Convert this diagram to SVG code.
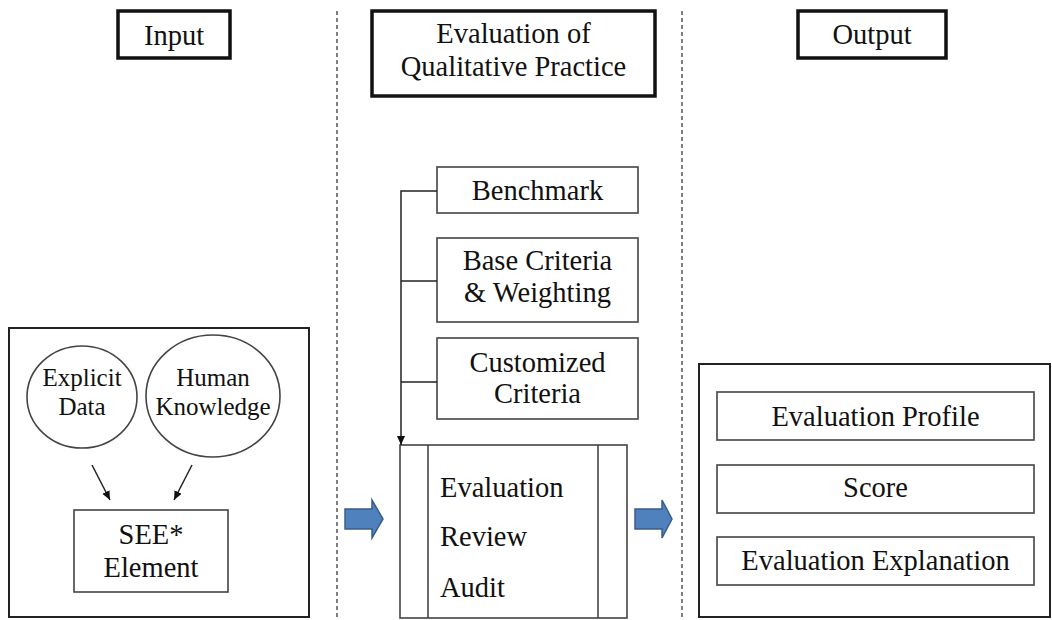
<svg xmlns="http://www.w3.org/2000/svg" width="1052" height="620" viewBox="0 0 1052 620">
  <defs>
    <marker id="tip" markerWidth="10" markerHeight="10" refX="9" refY="5" orient="auto" markerUnits="userSpaceOnUse">
      <path d="M0,1 L9,5 L0,9 Z" fill="#111"/>
    </marker>
    <style>
      text { font-family: "Liberation Serif", "Times New Roman", serif; font-size: 28.5px; fill: #111; }
      .mid { text-anchor: middle; }
      .small { font-size: 25px; }
      .head { fill: #fff; stroke: #111; stroke-width: 3.5; }
      .frame { fill: #fff; stroke: #222; stroke-width: 2; }
      .box { fill: #fff; stroke: #444; stroke-width: 1.6; }
      .divider { stroke: #555; stroke-width: 1.5; stroke-dasharray: 4 3; fill: none; }
      .link { stroke: #222; stroke-width: 1.5; fill: none; }
      .block { fill: #4F81BD; stroke: #385D8A; stroke-width: 1.5; }
    </style>
  </defs>
  <rect width="1052" height="620" fill="#fff"/>

  <!-- column dividers -->
  <g id="dividers">
    <line class="divider" x1="337" y1="11" x2="337" y2="620"/>
    <line class="divider" x1="682" y1="11" x2="682" y2="620"/>
  </g>

  <!-- column headers -->
  <g id="header-input">
    <rect class="head" x="118" y="11" width="112" height="47"/>
    <text class="mid" x="174" y="45">Input</text>
  </g>
  <g id="header-evaluation">
    <rect class="head" x="372" y="11" width="283" height="85"/>
    <text class="mid" x="513.5" y="43">Evaluation of</text>
    <text class="mid" x="513.5" y="76">Qualitative Practice</text>
  </g>
  <g id="header-output">
    <rect class="head" x="798" y="11" width="148" height="47"/>
    <text class="mid" x="872" y="44">Output</text>
  </g>

  <!-- input panel -->
  <g id="input-panel">
    <rect class="frame" x="9" y="328" width="300" height="289"/>
  </g>
  <g id="explicit-data">
    <ellipse class="box" cx="82" cy="397" rx="55" ry="51"/>
    <text class="mid small" x="82" y="386">Explicit</text>
    <text class="mid small" x="82" y="415">Data</text>
  </g>
  <g id="human-knowledge">
    <ellipse class="box" cx="213" cy="396" rx="67" ry="61"/>
    <text class="mid small" x="213" y="386">Human</text>
    <text class="mid small" x="213" y="415">Knowledge</text>
  </g>
  <g id="see-element">
    <rect class="box" x="74" y="510" width="154" height="82"/>
    <text class="mid" x="151" y="544">SEE*</text>
    <text class="mid" x="151" y="577">Element</text>
  </g>

  <!-- evaluation inputs -->
  <g id="benchmark">
    <rect class="box" x="437" y="167" width="201" height="46"/>
    <text class="mid" x="537.5" y="200">Benchmark</text>
  </g>
  <g id="base-criteria">
    <rect class="box" x="437" y="238" width="201" height="84"/>
    <text class="mid" x="537.5" y="270">Base Criteria</text>
    <text class="mid" x="537.5" y="302">&amp; Weighting</text>
  </g>
  <g id="customized-criteria">
    <rect class="box" x="437" y="338" width="201" height="81"/>
    <text class="mid" x="537.5" y="372">Customized</text>
    <text class="mid" x="537.5" y="403">Criteria</text>
  </g>

  <!-- evaluation process -->
  <g id="evaluation-process">
    <rect class="box" x="400" y="445" width="227" height="173"/>
    <line class="box" x1="428" y1="445" x2="428" y2="618"/>
    <line class="box" x1="598" y1="445" x2="598" y2="618"/>
    <text x="440" y="497">Evaluation</text>
    <text x="440" y="546">Review</text>
    <text x="440" y="597">Audit</text>
  </g>

  <!-- output panel -->
  <g id="output-panel">
    <rect class="frame" x="699" y="364" width="351" height="253"/>
  </g>
  <g id="evaluation-profile">
    <rect class="box" x="717" y="392" width="317" height="48"/>
    <text class="mid" x="875.5" y="426">Evaluation Profile</text>
  </g>
  <g id="score">
    <rect class="box" x="717" y="465" width="317" height="48"/>
    <text class="mid" x="875.5" y="497">Score</text>
  </g>
  <g id="evaluation-explanation">
    <rect class="box" x="717" y="537" width="317" height="48"/>
    <text class="mid" x="875.5" y="570">Evaluation Explanation</text>
  </g>

  <!-- connectors -->
  <g id="connectors">
    <line class="link" x1="92" y1="465" x2="110" y2="500" marker-end="url(#tip)"/>
    <line class="link" x1="192" y1="465" x2="174" y2="500" marker-end="url(#tip)"/>
    <path class="link" d="M437,191 H401 V445" marker-end="url(#tip)"/>
    <line class="link" x1="401" y1="281" x2="437" y2="281"/>
    <line class="link" x1="401" y1="382" x2="437" y2="382"/>
    <path class="block" d="M345,509 H372 V500 L383,519 L372,538 V529 H345 Z"/>
    <path class="block" d="M635,509 H662 V500 L672,519 L662,538 V529 H635 Z"/>
  </g>
</svg>
